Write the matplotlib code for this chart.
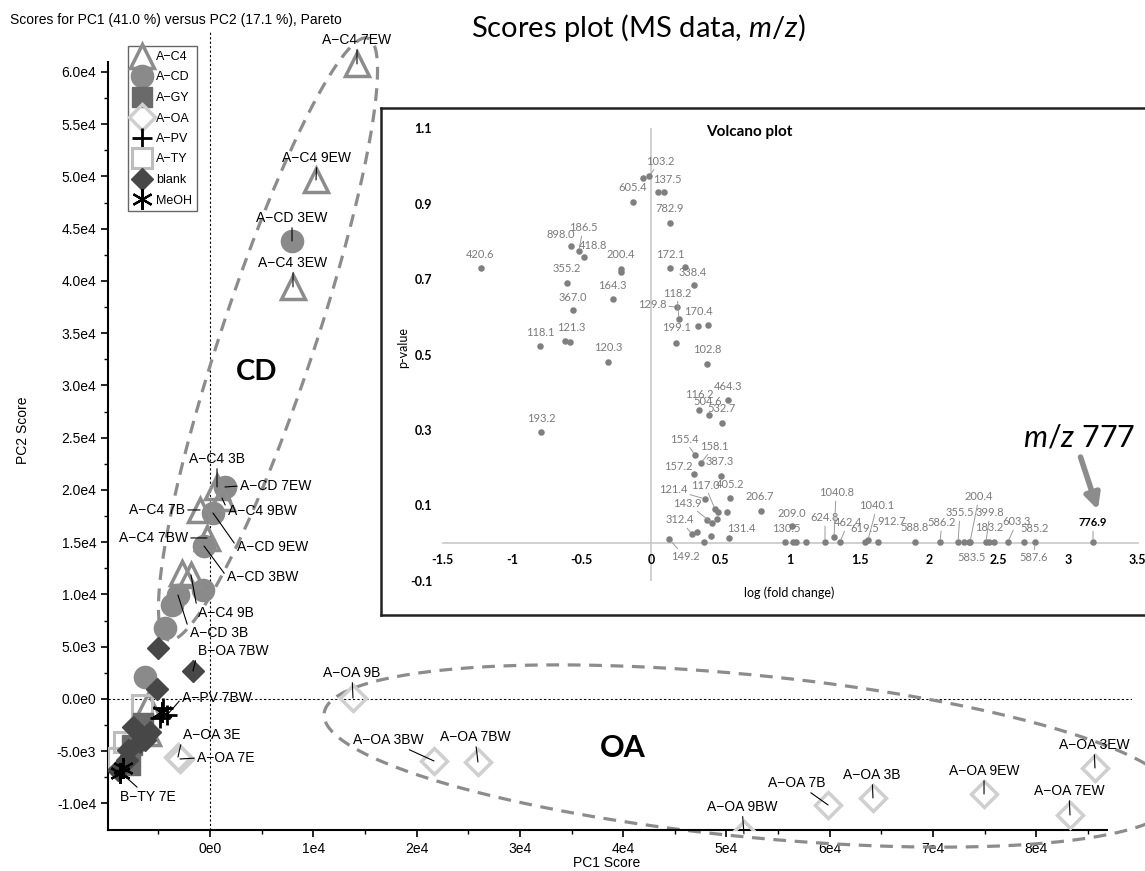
import numpy as np
import matplotlib
matplotlib.use("Agg")
import matplotlib.pyplot as plt
from matplotlib.ticker import MultipleLocator, FixedLocator, FuncFormatter
from matplotlib.lines import Line2D

plt.rcParams["font.family"] = ["Liberation Sans", "DejaVu Sans"]
plt.rcParams["mathtext.fontset"] = "custom"
plt.rcParams["mathtext.rm"] = "Lato"
plt.rcParams["mathtext.it"] = "Lato:italic"

#%%
# PCA scores (PC1, PC2); "" = no label
c4_x = [14230, 10260, 8035, 678, 1160, -968, -290, -1840, -2710, -6000, -6000]
c4_y = [60770, 49670, 39430, 20290, 19230, 18090, 15410, 11870, 12060, -570, -3250]
c4_names = ["A−C4 7EW", "A−C4 9EW", "A−C4 3EW", "A−C4 3B", "A−C4 9BW", "A−C4 7B",
            "A−C4 7BW", "A−C4 9B", "", "", ""]

cd_x = [7940, 1450, 290, -580, -680, -3100, -3680, -4360, -6290]
cd_y = [43830, 20290, 17800, 14640, 10430, 9950, 9000, 6790, 2100]
cd_names = ["A−CD 3EW", "A−CD 7EW", "A−CD 9EW", "A−CD 3BW", "", "A−CD 3B", "", "", ""]

gy_x = [-6490, -7550, -7740]
gy_y = [-2300, -4400, -6320]
gy_names = ["", "", ""]

oa_x = [-3100, -2900, 13840, 21680, 25940, 51690, 59830, 64180, 74930, 83250, 85670]
oa_y = [-5550, -5740, 100, -5930, -6030, -12900, -10140, -9470, -9090, -11100, -6600]
oa_names = ["A−OA 3E", "A−OA 7E", "A−OA 9B", "A−OA 3BW", "A−OA 7BW", "A−OA 9BW",
            "A−OA 7B", "A−OA 3B", "A−OA 9EW", "A−OA 7EW", "A−OA 3EW"]

pv_x = [-4160, -4840, -4550]
pv_y = [-1530, -1820, -860]
pv_names = ["A−PV 7BW", "", ""]

ty_x = [-6580, -8910, -8330]
ty_y = [-570, -5650, -4110]
ty_names = ["", "", ""]

blank_x = [-5030, -1650, -5130, -7450, -5810, -6780, -6290, -7940, -8030, -8910]
blank_y = [4880, 2680, 960, -2680, -3160, -4110, -3920, -4880, -5840, -6790]
blank_names = ["", "B−OA 7BW", "", "", "", "", "", "", "", "B−TY 7E"]

meoh_x = [-8710, -8420, -4650]
meoh_y = [-7080, -6600, -1240]
meoh_names = ["", "", ""]

# Volcano plot: labelled m/z values, log fold change, p-value
mz_labels = ["103.2", "137.5", "605.4", "782.9", "898.0", "186.5", "418.8", "420.6", "200.4", "355.2",
             "172.1", "338.4", "164.3", "367.0", "129.8", "118.2", "170.4", "199.1", "118.1", "121.3",
             "120.3", "102.8", "464.3", "116.2", "504.6", "532.7", "193.2", "155.4", "158.1", "387.3",
             "157.2", "405.2", "121.4", "117.0", "143.9", "312.4", "131.4", "149.2", "206.7", "209.0",
             "130.5", "624.8", "1040.8", "462.4", "1040.1", "619.5", "912.7", "588.8", "586.2", "355.5",
             "200.4", "583.5", "399.8", "183.2", "603.3", "585.2", "587.6", "776.9"]
mz_fc = [-0.014, 0.050, -0.129, 0.137, -0.576, -0.518, -0.482, -1.223, -0.216, -0.604,
         0.137, 0.309, -0.273, -0.561, 0.187, 0.201, 0.338, 0.180, -0.799, -0.619,
         -0.309, 0.403, 0.554, 0.345, 0.417, 0.511, -0.791, 0.317, 0.360, 0.504,
         0.309, 0.568, 0.388, 0.460, 0.439, 0.295, 0.561, 0.129, 0.791, 1.014,
         0.964, 1.252, 1.317, 1.360, 1.561, 1.540, 1.633, 1.899, 2.079, 2.209,
         2.295, 2.252, 2.410, 2.432, 2.568, 2.683, 2.763, 3.180]
mz_p = [0.973, 0.931, 0.905, 0.849, 0.788, 0.775, 0.759, 0.729, 0.727, 0.690,
        0.729, 0.684, 0.647, 0.618, 0.626, 0.594, 0.576, 0.531, 0.523, 0.536,
        0.480, 0.475, 0.379, 0.353, 0.340, 0.318, 0.294, 0.233, 0.212, 0.178,
        0.183, 0.119, 0.117, 0.090, 0.053, 0.024, 0.013, 0.011, 0.085, 0.045,
        0.003, 0.003, 0.016, 0.003, 0.008, 0.003, 0.003, 0.003, 0.003, 0.003,
        0.003, 0.003, 0.003, 0.003, 0.003, 0.003, 0.003, 0.003]

# unlabelled volcano points
extra_fc = [-0.058, 0.094, -0.216, 0.245, 0.410, -0.583, 0.482, 0.547, 0.403,
            0.475, 0.331, 0.432, 0.381, 1.022, 1.043, 1.115, 2.288, 2.468]
extra_p = [0.968, 0.931, 0.719, 0.732, 0.578, 0.533, 0.082, 0.082, 0.061,
           0.064, 0.029, 0.019, 0.003, 0.003, 0.003, 0.003, 0.003, 0.003]

#%%
# Layout of labels (pixel offsets from the point)
pca_label_pos = {
    "A−C4 7EW": (0, 24, "center"), "A−C4 9EW": (1, 22, "center"),
    "A−CD 3EW": (0, 23, "center"), "A−C4 3EW": (0, 24, "center"),
    "A−C4 3B": (0, 28, "center"), "A−CD 7EW": (15, 1, "left"),
    "A−C4 9BW": (6, -13, "left"), "A−C4 7B": (-15, 0, "right"),
    "A−CD 9EW": (24, -34, "left"), "A−C4 7BW": (-19, 0, "right"),
    "A−CD 3BW": (23, -31, "left"), "A−C4 9B": (7, -38, "left"),
    "A−CD 3B": (12, -38, "left"), "B−OA 7BW": (5, 20, "left"),
    "A−PV 7BW": (15, 17, "left"), "A−OA 3E": (5, 22, "left"),
    "A−OA 7E": (17, 1, "left"), "B−TY 7E": (30, -27, "center"),
    "A−OA 9B": (-1, 25, "center"), "A−OA 3BW": (-46, 21, "center"),
    "A−OA 7BW": (-3, 25, "center"), "A−OA 9BW": (-2, 27, "center"),
    "A−OA 7B": (-31, 22, "center"), "A−OA 3B": (-1, 23, "center"),
    "A−OA 9EW": (0, 23, "center"), "A−OA 7EW": (-1, 24, "center"),
    "A−OA 3EW": (-1, 23, "center"),
}

mz_offsets = [(11, 15), (9, 13), (0, 14), (0, 14), (-10, 11), (4, 23), (9, 11), (-1, 14), (0, 14), (0, 14),
              (0, 14), (-1, 13), (-1, 14), (0, 13), (-25, 2), (-2, 26), (0, 14), (0, 15), (0, 13), (6, 13),
              (0, 15), (0, 14), (0, 14), (0, 15), (-1, 13), (0, 15), (0, 14), (-11, 16), (13, 17), (-1, 14),
              (-16, 8), (0, 14), (-32, 9), (-10, 24), (-25, 20), (-12, 14), (12, 10), (16, -18), (-1, 14), (0, 13),
              (1, 13), (0, 24), (2, 44), (8, 19), (9, 34), (0, 13), (14, 20), (0, 14), (2, 19), (2, 29),
              (9, 45), (8, -16), (4, 29), (0, 14), (9, 20), (11, 13), (-1, -16), (0, 19)]
mz_leader = {0, 5, 14, 15, 27, 28, 32, 33, 34, 35, 37, 41, 42, 43, 44, 48, 49, 50, 52, 54, 56, 57}

#%%
W, H = 1145, 871
fig = plt.figure(figsize=(W / 100, H / 100), dpi=100)


def px_box(left, top, right, bottom):
    return [left / W, 1 - bottom / H, (right - left) / W, (bottom - top) / H]


ax = fig.add_axes(px_box(108, 30, 1132, 830))
ax.set_xlim(-9874, 89255)
ax.set_ylim(-12536, 64019)

for side in ["top", "right"]:
    ax.spines[side].set_visible(False)
ax.spines["left"].set_bounds(-12536, 61000)
ax.spines["bottom"].set_bounds(-9874, 86800)
ax.spines["left"].set_linewidth(1.5)
ax.spines["bottom"].set_linewidth(1.5)

ax.yaxis.set_major_locator(MultipleLocator(5000))
ax.yaxis.set_minor_locator(FixedLocator(np.arange(-10000, 60001, 2500)))
ax.xaxis.set_major_locator(MultipleLocator(10000))
ax.xaxis.set_minor_locator(MultipleLocator(5000))


def sci_label(v, decimals):
    if v == 0:
        return f"{0:.{decimals}f}e0"
    e = int(np.floor(np.log10(abs(v)) + 1e-9))
    return f"{v / 10**e:.{decimals}f}e{e}"


ax.yaxis.set_major_formatter(FuncFormatter(lambda v, p: sci_label(v, 1)))
ax.xaxis.set_major_formatter(FuncFormatter(lambda v, p: sci_label(v, 0)))
ax.tick_params(which="major", length=5, width=1.2, labelsize=10)
ax.tick_params(which="minor", length=3, width=1)

ax.set_xlabel("PC1 Score", fontsize=10)
ax.set_ylabel("PC2 Score", fontsize=10)
ax.xaxis.set_label_coords((607 - 108) / 1024, -0.033)
ax.yaxis.set_label_coords(-0.076, 0.5)

ax.axvline(0, color="black", lw=0.8, ls=(0, (2, 2)), zorder=1)
ax.axhline(0, color="black", lw=0.8, ls=(0, (2, 2)), zorder=1)

styles = {
    "A-C4": dict(marker="^", ms=17, mfc="none", mec="#8c8c8c", mew=2.5),
    "A-CD": dict(marker="o", ms=16, mfc="#8a8a8a", mec="#8a8a8a", mew=1),
    "A-GY": dict(marker="s", ms=14, mfc="#6a6a6a", mec="#6a6a6a", mew=1),
    "A-OA": dict(marker="D", ms=13, mfc="none", mec="#cfcfcf", mew=2.5),
    "A-PV": dict(marker="+", ms=14, mfc="none", mec="black", mew=2),
    "A-TY": dict(marker="s", ms=14, mfc="none", mec="#bdbdbd", mew=2.2),
    "blank": dict(marker="D", ms=11, mfc="#474747", mec="#474747", mew=1),
    "MeOH": dict(marker=(6, 2, 0), ms=15, mfc="none", mec="black", mew=1.6),
}

groups = [
    ("A-CD", cd_x, cd_y, cd_names),
    ("A-C4", c4_x, c4_y, c4_names),
    ("A-TY", ty_x, ty_y, ty_names),
    ("A-GY", gy_x, gy_y, gy_names),
    ("blank", blank_x, blank_y, blank_names),
    ("A-OA", oa_x, oa_y, oa_names),
    ("A-PV", pv_x, pv_y, pv_names),
    ("MeOH", meoh_x, meoh_y, meoh_names),
]

for z, (g, xs, ys, names) in enumerate(groups):
    ax.plot(xs, ys, ls="none", zorder=3 + z * 0.1, **styles[g])
    for xv, yv, name in zip(xs, ys, names):
        if not name:
            continue
        dx, dy, ha = pca_label_pos[name]
        relpos = {"left": (0, 0.5), "right": (1, 0.5), "center": (0.5, 0.5)}[ha]
        ax.annotate(name, (xv, yv), xytext=(dx, dy), textcoords="offset pixels",
                    ha=ha, va="center", fontsize=10, zorder=6, annotation_clip=False,
                    arrowprops=dict(arrowstyle="-", color="black", lw=0.8,
                                    shrinkA=0, shrinkB=0, relpos=relpos))


# Dashed grouping ellipses, given in screen pixels around a data centre
def dashed_ellipse(cx, cy, a_px, b_px, angle_deg):
    t = np.linspace(0, 2 * np.pi, 400)
    c = ax.transData.transform((cx, cy))
    th = np.deg2rad(angle_deg)
    u = a_px * np.cos(t)
    v = b_px * np.sin(t)
    X = c[0] + u * np.cos(th) - v * np.sin(th)
    Y = c[1] + u * np.sin(th) + v * np.cos(th)
    pts = ax.transData.inverted().transform(np.column_stack([X, Y]))
    ax.plot(pts[:, 0], pts[:, 1], ls=(0, (4, 2.7)), color="#8c8c8c", lw=2.3,
            clip_on=False, zorder=2)


dashed_ellipse(5615, 34450, 317, 47, 71.6)
dashed_ellipse(52275, -5455, 428, 81, -5.7)

fig.text(257 / W, 1 - 372 / H, "CD", fontsize=21, fontweight="bold", family="Lato",
         ha="center", va="center")
fig.text(623 / W, 1 - 748 / H, "OA", fontsize=22, fontweight="bold", family="Lato",
         ha="center", va="center")

# Legend
legend_order = ["A-C4", "A-CD", "A-GY", "A-OA", "A-PV", "A-TY", "blank", "MeOH"]
handles = []
for g in legend_order:
    handles.append(Line2D([], [], ls="none", **styles[g]))
leg = ax.legend(handles, [g.replace("-", "−") for g in legend_order],
                loc="upper left", bbox_to_anchor=(128 / W, 1 - 46 / H),
                bbox_transform=fig.transFigure, fontsize=9, frameon=True,
                fancybox=False, edgecolor="#666666", framealpha=1,
                handlelength=1.5, handletextpad=0.35, borderpad=0.4,
                labelspacing=0.68, borderaxespad=0)
leg.get_frame().set_linewidth(1.0)

fig.text(10 / W, 1 - 20 / H, "Scores for PC1 (41.0 %) versus PC2 (17.1 %), Pareto",
         fontsize=10, ha="left", va="center")
fig.text(638 / W, 1 - 28 / H, "Scores plot (MS data, $m/z$)", fontsize=21,
         family="Lato", ha="center", va="center")

#%%
# Volcano plot inset
frame = fig.add_axes(px_box(381, 108, 1170, 615), zorder=5)
frame.set_facecolor("white")
frame.set_xticks([])
frame.set_yticks([])
for s in frame.spines.values():
    s.set_linewidth(1.8)
    s.set_color("#222222")

vax = fig.add_axes(px_box(442.5, 128.3, 1137.5, 580.7), zorder=6)
vax.patch.set_alpha(0)
vax.set_xlim(-1.5, 3.5)
vax.set_ylim(-0.1, 1.1)
for side in ["top", "right", "left"]:
    vax.spines[side].set_visible(False)
vax.spines["bottom"].set_position(("data", 0))
vax.spines["bottom"].set_color("#c8c8c8")
vax.spines["bottom"].set_linewidth(1.2)
vax.axvline(0, color="#c8c8c8", lw=1.2, zorder=1)

xt = [-1.5, -1, -0.5, 0, 0.5, 1, 1.5, 2, 2.5, 3, 3.5]
yt = [1.1, 0.9, 0.7, 0.5, 0.3, 0.1, -0.1]
vax.set_xticks(xt, [f"{v:g}" for v in xt])
vax.set_yticks(yt, [f"{v:g}" for v in yt])
vax.tick_params(length=0, labelsize=9)
vax.tick_params(axis="y", pad=7.5)
vax.tick_params(axis="x", pad=8)
for lab in vax.get_xticklabels() + vax.get_yticklabels():
    lab.set_family("Lato")
    lab.set_fontweight("bold")

grey = "#7f7f7f"
vax.scatter(extra_fc, extra_p, s=22, color=grey, clip_on=False, zorder=3, linewidths=0)
vax.scatter(mz_fc, mz_p, s=22, color=grey, clip_on=False, zorder=3, linewidths=0)

for i, (lab, fc, p) in enumerate(zip(mz_labels, mz_fc, mz_p)):
    dx, dy = mz_offsets[i]
    bold = lab == "776.9"
    kw = dict(xytext=(dx, dy), textcoords="offset pixels", ha="center", va="center",
              fontsize=8, family="Lato", color="black" if bold else "#7a7a7a",
              fontweight="bold" if bold else "normal", zorder=4, annotation_clip=False)
    if i in mz_leader:
        kw["arrowprops"] = dict(arrowstyle="-", color="#9a9a9a", lw=0.7,
                                shrinkA=0, shrinkB=2)
    vax.annotate(lab, (fc, p), **kw)

vax.annotate("", xy=(3.215, 0.088), xytext=(3.09, 0.228),
             arrowprops=dict(arrowstyle="-|>,head_length=0.9,head_width=0.45",
                             lw=4, color="#8c8c8c", shrinkA=0, shrinkB=0),
             annotation_clip=False)

fig.text(749 / W, 1 - 132 / H, "Volcano plot", fontsize=11, fontweight="bold",
         family="Lato", ha="center", va="center", zorder=10)
fig.text(789 / W, 1 - 593 / H, "log (fold change)", fontsize=9, family="Lato",
         ha="center", va="center", zorder=10)
fig.text(403 / W, 1 - 348 / H, "p-value", fontsize=9, family="Lato", rotation=90,
         ha="center", va="center", zorder=10)
fig.text(1079 / W, 1 - 437 / H, "$m/z$ 777", fontsize=22, family="Lato",
         ha="center", va="center", zorder=10)

fig.savefig("out.png", dpi=100)
